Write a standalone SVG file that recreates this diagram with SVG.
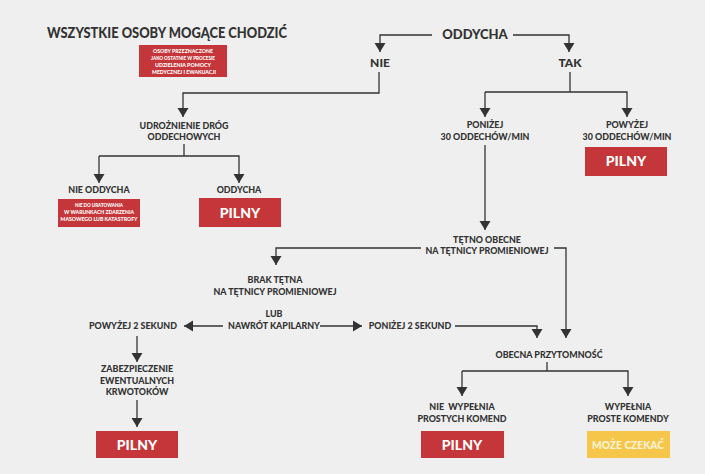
<svg xmlns="http://www.w3.org/2000/svg" width="705" height="474" viewBox="0 0 705 474">
<defs>
<marker id="ah" markerUnits="userSpaceOnUse" markerWidth="10" markerHeight="12" refX="9" refY="6" orient="auto" viewBox="0 0 10 12">
<path d="M0,0.5 L9,6 L0,11.5 z" fill="#333"/>
</marker>
<style>
text{font-family:Lato,"Open Sans","Liberation Sans",sans-serif;font-weight:900;fill:#333;text-anchor:middle}
.t13{font-size:13px}
.t12{font-size:12px}
.t9{font-size:8.9px}
.red{fill:#c5363a}
.yel{fill:#f6c64a}
.w{fill:#fff;font-size:14px}
.wy{fill:#fdf3d6;font-size:11.5px}
.s{fill:#fff;font-size:5px}
.c{fill:none;stroke:#333;stroke-width:1.3}
.a{marker-end:url(#ah)}
</style>
</defs>
<rect width="705" height="474" fill="#efefef"/>

<g id="connectors">
<polyline class="c a" points="432,35 380,35 380,52"/>
<polyline class="c a" points="513,35 569,35 569,52"/>
<polyline class="c a" points="379,72 379,93 183,93 183,117"/>
<polyline class="c" points="570,72 570,92"/>
<polyline class="c a" points="485,92 485,117"/>
<polyline class="c a" points="485,92 627,92 627,117"/>
<polyline class="c" points="184,144 184,156"/>
<polyline class="c a" points="99,156 99,183"/>
<polyline class="c a" points="99,156 239,156 239,183"/>
<polyline class="c a" points="485,145 485,230"/>
<polyline class="c a" points="421,248 276,248 276,265"/>
<polyline class="c a" points="554,248 566,248 566,338"/>
<polyline class="c a" points="223,326 184,326"/>
<polyline class="c a" points="320,326 362,326"/>
<polyline class="c a" points="455,326 537,326 537,338"/>
<polyline class="c a" points="137,336 137,362"/>
<polyline class="c a" points="137,400 137,427"/>
<polyline class="c" points="547,362 547,371"/>
<polyline class="c a" points="462,371 462,396"/>
<polyline class="c a" points="462,371 628,371 628,396"/>
</g>

<g id="title">
<text x="167" y="38" style="font-size:14.5px" textLength="240" lengthAdjust="spacingAndGlyphs">WSZYSTKIE OSOBY MOGĄCE CHODZIĆ</text>
</g>
<g id="note-walking">
<rect class="red" x="139" y="45" width="88" height="32"/>
<text class="s" x="183" y="52.5" textLength="60" lengthAdjust="spacingAndGlyphs">OSOBY PRZEZNACZONE</text>
<text class="s" x="183" y="59.5" textLength="64" lengthAdjust="spacingAndGlyphs">JAKO OSTATNIE W PROCESIE</text>
<text class="s" x="183" y="66.5" textLength="56" lengthAdjust="spacingAndGlyphs">UDZIELENIA POMOCY</text>
<text class="s" x="184" y="73.5" textLength="64" lengthAdjust="spacingAndGlyphs">MEDYCZNEJ I EWAKUACJI</text>
</g>
<g id="oddycha"><text class="t13" x="475" y="39">ODDYCHA</text></g>
<g id="nie"><text class="t12" x="380" y="67">NIE</text></g>
<g id="tak"><text class="t12" x="570" y="67">TAK</text></g>
<g id="udroznienie">
<text class="t9" x="184" y="129">UDROŻNIENIE DRÓG</text>
<text class="t9" x="184" y="140">ODDECHOWYCH</text>
</g>
<g id="nie-oddycha">
<text class="t9" x="99" y="193">NIE ODDYCHA</text>
<rect class="red" x="58" y="199" width="82" height="28"/>
<text class="s" x="99" y="207" textLength="48" lengthAdjust="spacingAndGlyphs">NIE DO URATOWANIA</text>
<text class="s" x="99" y="214" textLength="70" lengthAdjust="spacingAndGlyphs">W WARUNKACH ZDARZENIA</text>
<text class="s" x="99" y="221" textLength="77" lengthAdjust="spacingAndGlyphs">MASOWEGO LUB KATASTROFY</text>
</g>
<g id="oddycha2">
<text class="t9" x="239" y="193">ODDYCHA</text>
<rect class="red" x="199" y="198" width="82" height="29"/>
<text class="w" x="240" y="218">PILNY</text>
</g>
<g id="ponizej30">
<text class="t9" x="485" y="128">PONIŻEJ</text>
<text class="t9" x="485" y="140">30 ODDECHÓW/MIN</text>
</g>
<g id="powyzej30">
<text class="t9" x="627" y="128">POWYŻEJ</text>
<text class="t9" x="627" y="140">30 ODDECHÓW/MIN</text>
<rect class="red" x="585" y="147" width="82" height="29"/>
<text class="w" x="626" y="166">PILNY</text>
</g>
<g id="tetno-obecne">
<text class="t9" x="487" y="243">TĘTNO OBECNE</text>
<text class="t9" x="487" y="254">NA TĘTNICY PROMIENIOWEJ</text>
</g>
<g id="brak-tetna">
<text class="t9" x="275" y="283">BRAK TĘTNA</text>
<text class="t9" x="275" y="295">NA TĘTNICY PROMIENIOWEJ</text>
</g>
<g id="nawrot">
<text class="t9" x="274" y="317">LUB</text>
<text class="t9" x="274" y="329">NAWRÓT KAPILARNY</text>
</g>
<g id="powyzej2"><text class="t9" x="133" y="329">POWYŻEJ 2 SEKUND</text></g>
<g id="ponizej2"><text class="t9" x="410" y="329">PONIŻEJ 2 SEKUND</text></g>
<g id="zabezpieczenie">
<text class="t9" x="137" y="372">ZABEZPIECZENIE</text>
<text class="t9" x="137" y="384">EWENTUALNYCH</text>
<text class="t9" x="137" y="395">KRWOTOKÓW</text>
</g>
<g id="pilny-left">
<rect class="red" x="96" y="431" width="82" height="27"/>
<text class="w" x="137" y="450">PILNY</text>
</g>
<g id="przytomnosc"><text class="t9" x="549" y="358">OBECNA PRZYTOMNOŚĆ</text></g>
<g id="nie-wypelnia">
<text class="t9" x="462" y="410" style="white-space:pre">NIE  WYPEŁNIA</text>
<text class="t9" x="462" y="422">PROSTYCH KOMEND</text>
<rect class="red" x="421" y="431" width="83" height="27"/>
<text class="w" x="462" y="450">PILNY</text>
</g>
<g id="wypelnia">
<text class="t9" x="628" y="410">WYPEŁNIA</text>
<text class="t9" x="628" y="422">PROSTE KOMENDY</text>
<rect class="yel" x="587" y="431" width="83" height="27"/>
<text class="wy" x="628" y="449" textLength="72" lengthAdjust="spacingAndGlyphs">MOŻE CZEKAĆ</text>
</g>
</svg>
